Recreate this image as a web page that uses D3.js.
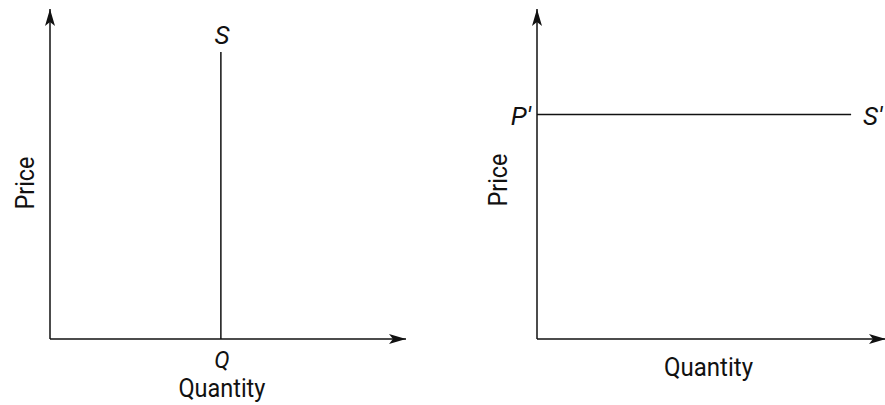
<!DOCTYPE html>
<html>
<head>
<meta charset="utf-8">
<script src="https://cdn.jsdelivr.net/npm/d3@7"></script>
<style>
  html, body { margin: 0; padding: 0; background: #fff; }
  svg { display: block; }
  .lbl { font-family: "Liberation Sans Narrow", "Arial Narrow", "Roboto", sans-serif; font-size: 26px; fill: #111; }
  .it { font-style: italic; }
</style>
</head>
<body>
<svg id="chart" width="885" height="405"></svg>
<script>
// ---- data ----
const axisTitles = ["Price", "Quantity"];
const curveLabels = ["S", "S\u2032"];
const pointLabels = ["Q", "P\u2032"];
const inelasticQ = [4.8, 4.8];      // quantity along vertical supply
const inelasticP = [0, 8.7];        // price span of vertical supply
const elasticQ = [0, 9.0];          // quantity span of horizontal supply
const elasticP = [6.8, 6.8];        // price along horizontal supply
const domainMax = 10;

const svg = d3.select("#chart");

svg.append("defs").append("marker")
  .attr("id", "arrow")
  .attr("viewBox", "0 0 17 10")
  .attr("refX", 17).attr("refY", 5)
  .attr("markerWidth", 17).attr("markerHeight", 10)
  .attr("markerUnits", "userSpaceOnUse")
  .attr("orient", "auto")
  .append("path")
  .attr("d", "M0,0 L17,5 L0,10 L4,5 Z")
  .attr("fill", "#111");

function panel(x0, x1) {
  const x = d3.scaleLinear().domain([0, domainMax]).range([x0, x1]);
  const y = d3.scaleLinear().domain([0, domainMax]).range([339, 9]);
  const g = svg.append("g");
  g.append("line").attr("x1", x(0)).attr("y1", y(0)).attr("x2", x(0)).attr("y2", y(domainMax))
    .attr("stroke", "#111").attr("stroke-width", 1.5).attr("marker-end", "url(#arrow)");
  g.append("line").attr("x1", x(0)).attr("y1", y(0)).attr("x2", x(domainMax)).attr("y2", y(0))
    .attr("stroke", "#111").attr("stroke-width", 1.5).attr("marker-end", "url(#arrow)");
  return { x, y, g };
}

const lineGen = (p) => d3.line().x(d => p.x(d[0])).y(d => p.y(d[1]));

function title(g, txt, len) {
  return g.append("text").attr("class", "lbl").attr("text-anchor", "middle")
    .attr("textLength", len).attr("lengthAdjust", "spacingAndGlyphs").text(txt);
}

// Left panel: perfectly inelastic supply
const L = panel(50, 406);
L.g.append("path")
  .attr("d", lineGen(L)(d3.zip(inelasticQ, inelasticP)))
  .attr("stroke", "#111").attr("stroke-width", 1.5).attr("fill", "none");
L.g.append("text").attr("class", "lbl it")
  .attr("x", L.x(inelasticQ[1]) + 1).attr("y", 44).attr("text-anchor", "middle").text(curveLabels[0]);
L.g.append("text").attr("class", "lbl it").style("font-size", "23px")
  .attr("x", L.x(inelasticQ[0]) + 1).attr("y", 368).attr("text-anchor", "middle").text(pointLabels[0]);
title(L.g, axisTitles[1], 87).attr("x", L.x(inelasticQ[0]) + 1).attr("y", 397);
title(L.g, axisTitles[0], 53).attr("transform", "translate(34,183) rotate(-90)");

// Right panel: perfectly elastic supply
const R = panel(537, 886);
R.g.append("path")
  .attr("d", lineGen(R)(d3.zip(elasticQ, elasticP)))
  .attr("stroke", "#111").attr("stroke-width", 1.5).attr("fill", "none");
R.g.append("text").attr("class", "lbl it")
  .attr("x", R.x(0) - 6).attr("y", R.y(elasticP[0]) + 10).attr("text-anchor", "end").text(pointLabels[1]);
R.g.append("text").attr("class", "lbl it")
  .attr("x", R.x(elasticQ[1]) + 12).attr("y", R.y(elasticP[1]) + 10).attr("text-anchor", "start").text(curveLabels[1]);
title(R.g, axisTitles[1], 89).attr("x", 708.5).attr("y", 376);
title(R.g, axisTitles[0], 53).attr("transform", "translate(507,180) rotate(-90)");
</script>
</body>
</html>
